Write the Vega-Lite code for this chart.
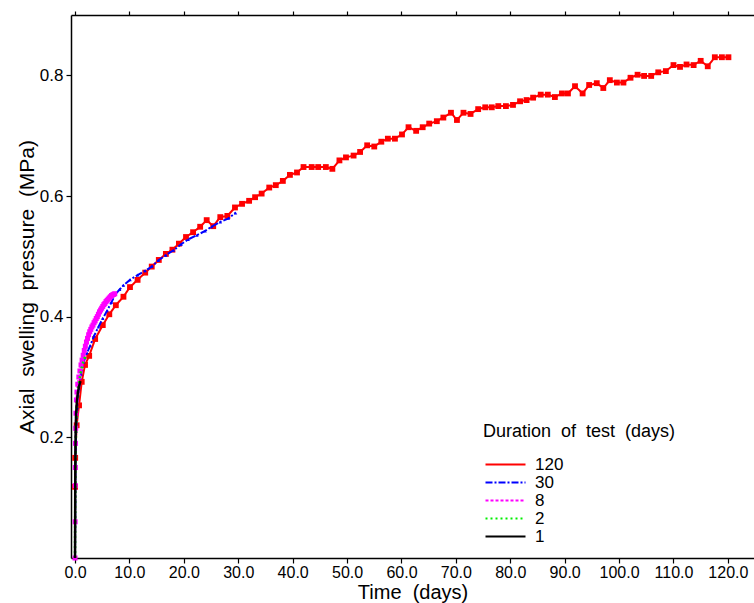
{
  "$schema": "https://vega.github.io/schema/vega-lite/v6.json",
  "width": 683,
  "height": 543,
  "autosize": {"type": "none"},
  "padding": {"left": 71, "top": 15, "right": 0, "bottom": 45},
  "config": {
    "view": {"stroke": null},
    "font": "Liberation Sans",
    "axis": {"grid": false, "domainColor": "#000", "domainWidth": 1.5, "tickColor": "#000", "tickWidth": 1.2, "labelColor": "#000", "titleColor": "#000", "titleFontWeight": "normal"}
  },
  "data": {"values": [
    {"series": "120", "t": 0, "p": 0.118},
    {"series": "120", "t": 0.03, "p": 0.166},
    {"series": "120", "t": 0.3, "p": 0.22},
    {"series": "120", "t": 0.74, "p": 0.253},
    {"series": "120", "t": 1.23, "p": 0.292},
    {"series": "120", "t": 1.84, "p": 0.32},
    {"series": "120", "t": 2.6, "p": 0.335},
    {"series": "120", "t": 3.7, "p": 0.363},
    {"series": "120", "t": 5.1, "p": 0.386},
    {"series": "120", "t": 6.3, "p": 0.404},
    {"series": "120", "t": 7.5, "p": 0.419},
    {"series": "120", "t": 8.9, "p": 0.433},
    {"series": "120", "t": 10.1, "p": 0.449},
    {"series": "120", "t": 11.5, "p": 0.461},
    {"series": "120", "t": 12.9, "p": 0.473},
    {"series": "120", "t": 14.1, "p": 0.483},
    {"series": "120", "t": 15.4, "p": 0.494},
    {"series": "120", "t": 16.7, "p": 0.504},
    {"series": "120", "t": 17.9, "p": 0.511},
    {"series": "120", "t": 19.1, "p": 0.521},
    {"series": "120", "t": 20.4, "p": 0.532},
    {"series": "120", "t": 21.7, "p": 0.54},
    {"series": "120", "t": 23.0, "p": 0.549},
    {"series": "120", "t": 24.2, "p": 0.56},
    {"series": "120", "t": 25.4, "p": 0.55},
    {"series": "120", "t": 26.7, "p": 0.565},
    {"series": "120", "t": 28.0, "p": 0.567},
    {"series": "120", "t": 29.4, "p": 0.581},
    {"series": "120", "t": 30.7, "p": 0.587},
    {"series": "120", "t": 32.0, "p": 0.592},
    {"series": "120", "t": 33.1, "p": 0.598},
    {"series": "120", "t": 34.3, "p": 0.604},
    {"series": "120", "t": 35.7, "p": 0.614},
    {"series": "120", "t": 36.9, "p": 0.618},
    {"series": "120", "t": 38.2, "p": 0.625},
    {"series": "120", "t": 39.5, "p": 0.635},
    {"series": "120", "t": 40.8, "p": 0.639},
    {"series": "120", "t": 42.0, "p": 0.648},
    {"series": "120", "t": 43.5, "p": 0.648},
    {"series": "120", "t": 44.7, "p": 0.648},
    {"series": "120", "t": 46.1, "p": 0.648},
    {"series": "120", "t": 47.3, "p": 0.645},
    {"series": "120", "t": 48.6, "p": 0.659},
    {"series": "120", "t": 49.8, "p": 0.664},
    {"series": "120", "t": 51.2, "p": 0.667},
    {"series": "120", "t": 52.4, "p": 0.673},
    {"series": "120", "t": 53.7, "p": 0.684},
    {"series": "120", "t": 55.0, "p": 0.682},
    {"series": "120", "t": 56.3, "p": 0.69},
    {"series": "120", "t": 57.5, "p": 0.695},
    {"series": "120", "t": 58.8, "p": 0.695},
    {"series": "120", "t": 60.1, "p": 0.702},
    {"series": "120", "t": 61.3, "p": 0.714},
    {"series": "120", "t": 62.7, "p": 0.708},
    {"series": "120", "t": 63.9, "p": 0.714},
    {"series": "120", "t": 65.1, "p": 0.72},
    {"series": "120", "t": 66.5, "p": 0.724},
    {"series": "120", "t": 67.7, "p": 0.73},
    {"series": "120", "t": 69.1, "p": 0.738},
    {"series": "120", "t": 70.2, "p": 0.726},
    {"series": "120", "t": 71.4, "p": 0.738},
    {"series": "120", "t": 72.7, "p": 0.736},
    {"series": "120", "t": 74.1, "p": 0.744},
    {"series": "120", "t": 75.4, "p": 0.747},
    {"series": "120", "t": 76.6, "p": 0.747},
    {"series": "120", "t": 77.8, "p": 0.749},
    {"series": "120", "t": 79.2, "p": 0.749},
    {"series": "120", "t": 80.5, "p": 0.751},
    {"series": "120", "t": 81.8, "p": 0.757},
    {"series": "120", "t": 83.0, "p": 0.759},
    {"series": "120", "t": 84.2, "p": 0.763},
    {"series": "120", "t": 85.6, "p": 0.768},
    {"series": "120", "t": 86.9, "p": 0.768},
    {"series": "120", "t": 88.2, "p": 0.764},
    {"series": "120", "t": 89.5, "p": 0.77},
    {"series": "120", "t": 90.6, "p": 0.77},
    {"series": "120", "t": 91.9, "p": 0.782},
    {"series": "120", "t": 93.3, "p": 0.77},
    {"series": "120", "t": 94.5, "p": 0.784},
    {"series": "120", "t": 95.9, "p": 0.787},
    {"series": "120", "t": 97.1, "p": 0.779},
    {"series": "120", "t": 98.3, "p": 0.792},
    {"series": "120", "t": 99.6, "p": 0.788},
    {"series": "120", "t": 100.8, "p": 0.788},
    {"series": "120", "t": 102.1, "p": 0.796},
    {"series": "120", "t": 103.4, "p": 0.801},
    {"series": "120", "t": 104.6, "p": 0.799},
    {"series": "120", "t": 105.9, "p": 0.799},
    {"series": "120", "t": 107.2, "p": 0.805},
    {"series": "120", "t": 108.6, "p": 0.807},
    {"series": "120", "t": 110.0, "p": 0.817},
    {"series": "120", "t": 111.2, "p": 0.814},
    {"series": "120", "t": 112.4, "p": 0.818},
    {"series": "120", "t": 113.7, "p": 0.817},
    {"series": "120", "t": 115.0, "p": 0.824},
    {"series": "120", "t": 116.3, "p": 0.815},
    {"series": "120", "t": 117.6, "p": 0.83},
    {"series": "120", "t": 118.9, "p": 0.83},
    {"series": "120", "t": 120.1, "p": 0.83},
    {"series": "30", "t": 0, "p": 0},
    {"series": "30", "t": 0.03, "p": 0.06},
    {"series": "30", "t": 0.06, "p": 0.12},
    {"series": "30", "t": 0.1, "p": 0.17},
    {"series": "30", "t": 0.2, "p": 0.21},
    {"series": "30", "t": 0.4, "p": 0.25},
    {"series": "30", "t": 0.7, "p": 0.28},
    {"series": "30", "t": 1.1, "p": 0.305},
    {"series": "30", "t": 1.6, "p": 0.325},
    {"series": "30", "t": 2.2, "p": 0.34},
    {"series": "30", "t": 2.8, "p": 0.352},
    {"series": "30", "t": 3.5, "p": 0.368},
    {"series": "30", "t": 4.3, "p": 0.383},
    {"series": "30", "t": 5.1, "p": 0.397},
    {"series": "30", "t": 5.9, "p": 0.41},
    {"series": "30", "t": 6.7, "p": 0.424},
    {"series": "30", "t": 7.4, "p": 0.437},
    {"series": "30", "t": 8.2, "p": 0.445},
    {"series": "30", "t": 8.9, "p": 0.452},
    {"series": "30", "t": 10.1, "p": 0.461},
    {"series": "30", "t": 11.5, "p": 0.469},
    {"series": "30", "t": 12.9, "p": 0.476},
    {"series": "30", "t": 14.1, "p": 0.483},
    {"series": "30", "t": 15.3, "p": 0.493},
    {"series": "30", "t": 16.7, "p": 0.502},
    {"series": "30", "t": 18.1, "p": 0.51},
    {"series": "30", "t": 19.5, "p": 0.52},
    {"series": "30", "t": 20.8, "p": 0.528},
    {"series": "30", "t": 22.4, "p": 0.535},
    {"series": "30", "t": 23.9, "p": 0.542},
    {"series": "30", "t": 25.1, "p": 0.549},
    {"series": "30", "t": 26.7, "p": 0.557},
    {"series": "30", "t": 28.2, "p": 0.563},
    {"series": "30", "t": 29.5, "p": 0.572},
    {"series": "8", "t": 0, "p": 0},
    {"series": "8", "t": 0.02, "p": 0.06},
    {"series": "8", "t": 0.04, "p": 0.12},
    {"series": "8", "t": 0.06, "p": 0.15},
    {"series": "8", "t": 0.08, "p": 0.19},
    {"series": "8", "t": 0.12, "p": 0.215},
    {"series": "8", "t": 0.17, "p": 0.24},
    {"series": "8", "t": 0.25, "p": 0.262},
    {"series": "8", "t": 0.35, "p": 0.275},
    {"series": "8", "t": 0.5, "p": 0.288},
    {"series": "8", "t": 0.7, "p": 0.3},
    {"series": "8", "t": 0.9, "p": 0.31},
    {"series": "8", "t": 1.1, "p": 0.32},
    {"series": "8", "t": 1.3, "p": 0.328},
    {"series": "8", "t": 1.5, "p": 0.336},
    {"series": "8", "t": 1.7, "p": 0.344},
    {"series": "8", "t": 1.9, "p": 0.351},
    {"series": "8", "t": 2.1, "p": 0.358},
    {"series": "8", "t": 2.3, "p": 0.364},
    {"series": "8", "t": 2.5, "p": 0.37},
    {"series": "8", "t": 2.7, "p": 0.375},
    {"series": "8", "t": 2.9, "p": 0.379},
    {"series": "8", "t": 3.1, "p": 0.383},
    {"series": "8", "t": 3.3, "p": 0.386},
    {"series": "8", "t": 3.5, "p": 0.39},
    {"series": "8", "t": 3.7, "p": 0.393},
    {"series": "8", "t": 3.9, "p": 0.397},
    {"series": "8", "t": 4.1, "p": 0.4},
    {"series": "8", "t": 4.3, "p": 0.404},
    {"series": "8", "t": 4.5, "p": 0.408},
    {"series": "8", "t": 4.7, "p": 0.411},
    {"series": "8", "t": 4.9, "p": 0.414},
    {"series": "8", "t": 5.1, "p": 0.417},
    {"series": "8", "t": 5.3, "p": 0.42},
    {"series": "8", "t": 5.5, "p": 0.422},
    {"series": "8", "t": 5.7, "p": 0.425},
    {"series": "8", "t": 5.9, "p": 0.427},
    {"series": "8", "t": 6.1, "p": 0.429},
    {"series": "8", "t": 6.3, "p": 0.431},
    {"series": "8", "t": 6.5, "p": 0.433},
    {"series": "8", "t": 6.7, "p": 0.435},
    {"series": "8", "t": 6.9, "p": 0.436},
    {"series": "8", "t": 7.1, "p": 0.437},
    {"series": "8", "t": 7.3, "p": 0.438},
    {"series": "2", "t": 0, "p": 0},
    {"series": "2", "t": 0.02, "p": 0.05},
    {"series": "2", "t": 0.05, "p": 0.11},
    {"series": "2", "t": 0.1, "p": 0.17},
    {"series": "2", "t": 0.2, "p": 0.22},
    {"series": "2", "t": 0.35, "p": 0.255},
    {"series": "2", "t": 0.5, "p": 0.272},
    {"series": "2", "t": 0.7, "p": 0.288},
    {"series": "2", "t": 0.9, "p": 0.3},
    {"series": "2", "t": 1.1, "p": 0.31},
    {"series": "2", "t": 1.3, "p": 0.318},
    {"series": "2", "t": 1.5, "p": 0.325},
    {"series": "2", "t": 1.7, "p": 0.33},
    {"series": "2", "t": 1.9, "p": 0.335},
    {"series": "2", "t": 2.0, "p": 0.338},
    {"series": "1", "t": 0, "p": 0},
    {"series": "1", "t": 0.02, "p": 0.05},
    {"series": "1", "t": 0.04, "p": 0.12},
    {"series": "1", "t": 0.07, "p": 0.17},
    {"series": "1", "t": 0.12, "p": 0.21},
    {"series": "1", "t": 0.2, "p": 0.24},
    {"series": "1", "t": 0.35, "p": 0.26},
    {"series": "1", "t": 0.5, "p": 0.272},
    {"series": "1", "t": 0.7, "p": 0.283},
    {"series": "1", "t": 0.9, "p": 0.29},
    {"series": "1", "t": 1.0, "p": 0.293}
  ]},
  "resolve": {"axis": {"x": "independent", "y": "shared"}},
  "layer": [
    {
      "transform": [{"filter": "datum.series === '120'"}],
      "mark": {"type": "line", "strokeWidth": 2},
      "encoding": {
        "x": {"field": "t", "type": "quantitative", "scale": {"domain": [-0.74, 124.8], "nice": false, "zero": false},
          "axis": {"orient": "bottom", "values": [0, 10, 20, 30, 40, 50, 60, 70, 80, 90, 100, 110, 120], "format": ".1f", "title": "Time \u00a0(days)", "labelFont": "Liberation Sans", "labelFontSize": 16, "labelPadding": 1, "tickSize": 5, "titleFontSize": 20, "titlePadding": 2}},
        "y": {"field": "p", "type": "quantitative", "scale": {"domain": [0, 0.9], "nice": false},
          "axis": {"orient": "left", "values": [0.2, 0.4, 0.6, 0.8], "format": ".1f", "title": "Axial \u00a0swelling \u00a0pressure \u00a0(MPa)", "labelFontSize": 17, "tickSize": 5, "labelPadding": 3, "titleFontSize": 21, "titlePadding": 2, "titleLimit": 400}},
        "color": {"field": "series", "type": "nominal", "scale": {"domain": ["120", "30", "8", "2", "1"], "range": ["#ff0000", "#0000ff", "#ff00ff", "#00ee00", "#000000"]},
          "legend": {"title": "Duration \u00a0of \u00a0test \u00a0(days)", "orient": "none", "legendX": 412, "legendY": 408, "symbolType": "M-4,0H4", "symbolSize": 100, "symbolStrokeWidth": 2, "symbolOffset": 14, "titleFontSize": 18, "titleLimit": 400, "titleFontWeight": "normal", "titleColor": "#000", "titlePadding": 15, "labelFontSize": 17, "labelColor": "#000", "labelOffset": 21, "rowPadding": 0}},
        "strokeDash": {"field": "series", "type": "nominal", "scale": {"domain": ["120", "30", "8", "2", "1"], "range": [[1, 0], [7, 2, 2, 2], [3, 2], [2, 3], [1, 0]]}}
      }
    },
    {
      "transform": [{"filter": "datum.series === '120'"}],
      "mark": {"type": "square", "size": 34, "color": "#ff0000", "opacity": 1},
      "encoding": {
        "x": {"field": "t", "type": "quantitative", "axis": {"orient": "top", "values": [0, 10, 20, 30, 40, 50, 60, 70, 80, 90, 100, 110, 120], "labels": false, "title": null, "tickSize": 4}},
        "y": {"field": "p", "type": "quantitative"}
      }
    },
    {
      "transform": [{"filter": "datum.series === '30'"}],
      "mark": {"type": "line", "strokeWidth": 2},
      "encoding": {
        "x": {"field": "t", "type": "quantitative", "axis": null},
        "y": {"field": "p", "type": "quantitative"},
        "color": {"field": "series", "type": "nominal"},
        "strokeDash": {"field": "series", "type": "nominal"}
      }
    },
    {
      "transform": [{"filter": "datum.series === '30'"}],
      "mark": {"type": "point", "shape": "triangle-up", "filled": true, "size": 12, "color": "#0000ff", "opacity": 1},
      "encoding": {
        "x": {"field": "t", "type": "quantitative", "axis": null},
        "y": {"field": "p", "type": "quantitative"}
      }
    },
    {
      "transform": [{"filter": "datum.series === '8'"}],
      "mark": {"type": "line", "strokeWidth": 2},
      "encoding": {
        "x": {"field": "t", "type": "quantitative", "axis": null},
        "y": {"field": "p", "type": "quantitative"},
        "color": {"field": "series", "type": "nominal"},
        "strokeDash": {"field": "series", "type": "nominal"}
      }
    },
    {
      "transform": [{"filter": "datum.series === '8'"}],
      "mark": {"type": "square", "size": 25, "color": "#ff00ff", "opacity": 1},
      "encoding": {
        "x": {"field": "t", "type": "quantitative", "axis": null},
        "y": {"field": "p", "type": "quantitative"}
      }
    },
    {
      "transform": [{"filter": "datum.series === '2'"}],
      "mark": {"type": "line", "strokeWidth": 2.5},
      "encoding": {
        "x": {"field": "t", "type": "quantitative", "axis": null},
        "y": {"field": "p", "type": "quantitative"},
        "color": {"field": "series", "type": "nominal"},
        "strokeDash": {"field": "series", "type": "nominal"}
      }
    },
    {
      "transform": [{"filter": "datum.series === '1'"}],
      "mark": {"type": "line", "strokeWidth": 2.5},
      "encoding": {
        "x": {"field": "t", "type": "quantitative", "axis": null},
        "y": {"field": "p", "type": "quantitative"},
        "color": {"field": "series", "type": "nominal"},
        "strokeDash": {"field": "series", "type": "nominal"}
      }
    }
  ]
}
